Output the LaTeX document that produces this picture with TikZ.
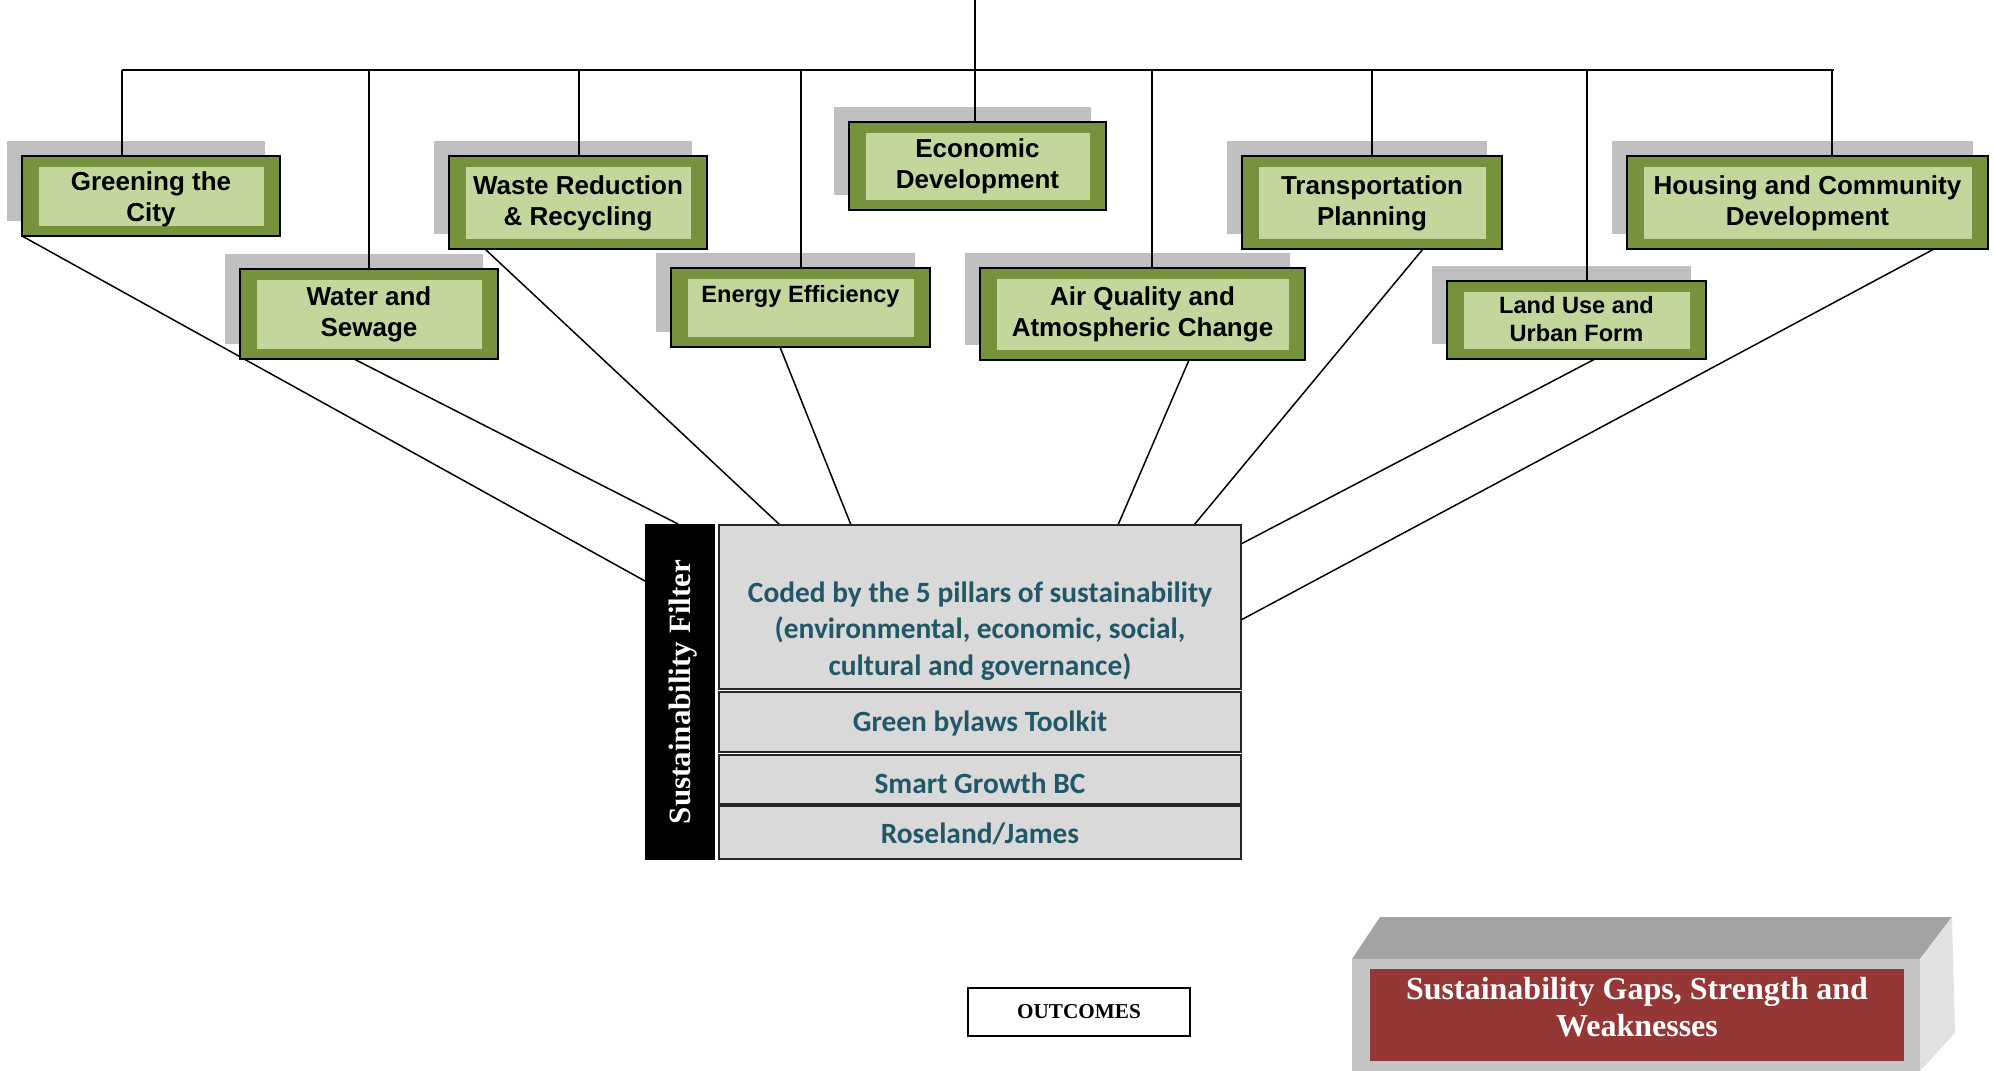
\documentclass[tikz,border=0pt]{standalone}
\usepackage{fontspec}
\setmainfont{Liberation Serif}
\newfontfamily\arialf{Liberation Sans}
\newfontfamily\calf{Carlito}
\usetikzlibrary{calc}
\definecolor{dkgreen}{HTML}{76923C}
\definecolor{ltgreen}{HTML}{C3D69B}
\definecolor{shadowgr}{HTML}{BFBFBF}
\definecolor{panelgr}{HTML}{D9D9D9}
\definecolor{tealtext}{HTML}{215868}
\definecolor{brickred}{HTML}{953735}
\definecolor{topgr}{HTML}{A3A3A3}
\definecolor{frontgr}{HTML}{C4C4C4}
\definecolor{sidegr}{HTML}{E2E2E2}
\pgfdeclarelayer{shadowl}
\pgfdeclarelayer{linel}
\pgfsetlayers{shadowl,linel,main}
\tikzset{
 outerbox/.style={draw=black, line width=0.9pt, fill=dkgreen, inner sep=0pt, outer sep=0pt},
 boxlabel/.style={font=\arialf\bfseries\fontsize{13}{15.6}\selectfont, align=center, inner sep=0pt},
 smalllabel/.style={font=\arialf\bfseries\fontsize{11.8}{13.6}\selectfont, align=center, inner sep=0pt},
 link/.style={line width=0.75pt},
 busline/.style={line width=0.9pt},
 panel/.style={draw=black!85, line width=0.8pt, fill=panelgr, inner sep=0pt, outer sep=0pt, minimum width=261pt},
 paneltext/.style={font=\calf\bfseries\fontsize{14.7}{18.3}\selectfont, text=tealtext, align=center, inner sep=0pt},
}
\newcommand\greenbox[8]{%
 \begin{pgfonlayer}{shadowl}
  \fill[shadowgr] (#2-15,#3-15) rectangle (#4-15,#5-15);
 \end{pgfonlayer}
 \node[outerbox, minimum width={(#4-#2)*0.5pt}, minimum height={(#5-#3)*0.5pt}] (#1) at ({(#2+#4)/2},{(#3+#5)/2}) {};
 \fill[ltgreen] ([shift={(17,11)}]#1.north west) rectangle ([shift={(-16,-10)}]#1.south east);
 \node[#6] (#1-t) at ([shift={(0,#7)}]#1.center) {#8};
}
\begin{document}
\begin{tikzpicture}[x=0.5pt,y=-0.5pt]
\useasboundingbox (0,0) rectangle (1994,1071);

% green boxes
\greenbox{greening}{22}{156}{280}{236}{boxlabel}{3}{Greening the\\City}
\greenbox{water}{240}{269}{498}{359}{boxlabel}{0}{Water and\\Sewage}
\greenbox{waste}{449}{156}{707}{249}{boxlabel}{1}{Waste Reduction\\\& Recycling}
\greenbox{energy}{671}{268}{930}{347}{smalllabel}{-11}{Energy Efficiency}
\greenbox{econ}{849}{122}{1106}{210}{boxlabel}{0}{Economic\\Development}
\greenbox{air}{980}{268}{1305}{360}{boxlabel}{0}{Air Quality and\\Atmospheric Change}
\greenbox{transport}{1242}{156}{1502}{249}{boxlabel}{1}{Transportation\\Planning}
\greenbox{landuse}{1447}{281}{1706}{359}{smalllabel}{-1}{Land Use and\\Urban Form}
\greenbox{housing}{1627}{156}{1988}{249}{boxlabel}{1}{Housing and Community\\Development}

% central filter block
\node[fill=black, minimum width=35pt, minimum height=168pt, inner sep=0pt, outer sep=0pt] (filt) at (680,692) {};
\node[rotate=90, text=white, font=\bfseries\fontsize{15.5}{18}\selectfont, inner sep=0pt] (filt-t) at (683,692) {Sustainability Filter};
\node[panel, minimum height=82pt] (coded) at (980,607) {};
\node[panel, minimum height=30pt] (green) at (980,722) {};
\node[panel, minimum height=24.5pt] (smart) at (980,779.5) {};
\node[panel, minimum height=26.5pt] (rose) at (980,832.5) {};
\node[paneltext] (coded-t) at (980,631) {Coded by the 5 pillars of sustainability\\(environmental, economic, social,\\cultural and governance)};
\node[paneltext] (green-t) at (980,723) {Green bylaws Toolkit};
\node[paneltext] (smart-t) at (980,783) {Smart Growth BC};
\node[paneltext] (rose-t) at (980,834) {Roseland/James};

% connectors
\coordinate (topin) at (975,0);
\coordinate (busL) at (122,70);
\coordinate (busR) at (1834,70);
\begin{pgfonlayer}{linel}
 \draw[busline] (topin) -- (975,0 |- econ.north);
 \draw[busline] (busL) -- (busR);
 \draw[busline] (122,0 |- busL) -- (122,0 |- greening.north);
 \draw[busline] (369,0 |- busL) -- (369,0 |- water.north);
 \draw[busline] (579,0 |- busL) -- (579,0 |- waste.north);
 \draw[busline] (801,0 |- busL) -- (801,0 |- energy.north);
 \draw[busline] (1152,0 |- busL) -- (1152,0 |- air.north);
 \draw[busline] (1372,0 |- busL) -- (1372,0 |- transport.north);
 \draw[busline] (1587,0 |- busL) -- (1587,0 |- landuse.north);
 \draw[busline] (1832,0 |- busL) -- (1832,0 |- housing.north);
 \draw[link] (greening.south west) -- ([shift={(0,57)}]filt.north west);
 \draw[link] (354,0 |- water.south) -- (678,0 |- filt.north);
 \draw[link] (485,0 |- waste.south) -- (780,0 |- coded.north);
 \draw[link] (780,0 |- energy.south) -- (851,0 |- coded.north);
 \draw[link] (1189,0 |- air.south) -- (1118,0 |- coded.north);
 \draw[link] (1423,0 |- transport.south) -- (1194,0 |- coded.north);
 \draw[link] (1595,0 |- landuse.south) -- ([shift={(0,19)}]coded.north east);
 \draw[link] (1934,0 |- housing.south) -- ([shift={(0,95)}]coded.north east);
\end{pgfonlayer}

% outcomes
\node[draw=black, line width=1pt, minimum width=111pt, minimum height=24pt, inner sep=0pt, font=\bfseries\fontsize{10.6}{12}\selectfont] (outc) at (1079,1012) {OUTCOMES};

% 3D box
\fill[topgr] (1352,959) -- (1380,917) -- (1952,917) -- (1920,959) -- cycle;
\fill[sidegr] (1920,959) -- (1952,917) -- (1955,1033) -- (1920,1071) -- cycle;
\fill[frontgr] (1352,959) rectangle (1920,1071);
\node[fill=brickred, minimum width=267pt, minimum height=46pt, inner sep=0pt] (gaps) at (1637,1015) {};
\node[text=white, align=center, inner sep=0pt, font=\bfseries\fontsize{16}{18.5}\selectfont] (gaps-t) at (1637,1007) {Sustainability Gaps, Strength and\\Weaknesses};
\end{tikzpicture}
\end{document}
